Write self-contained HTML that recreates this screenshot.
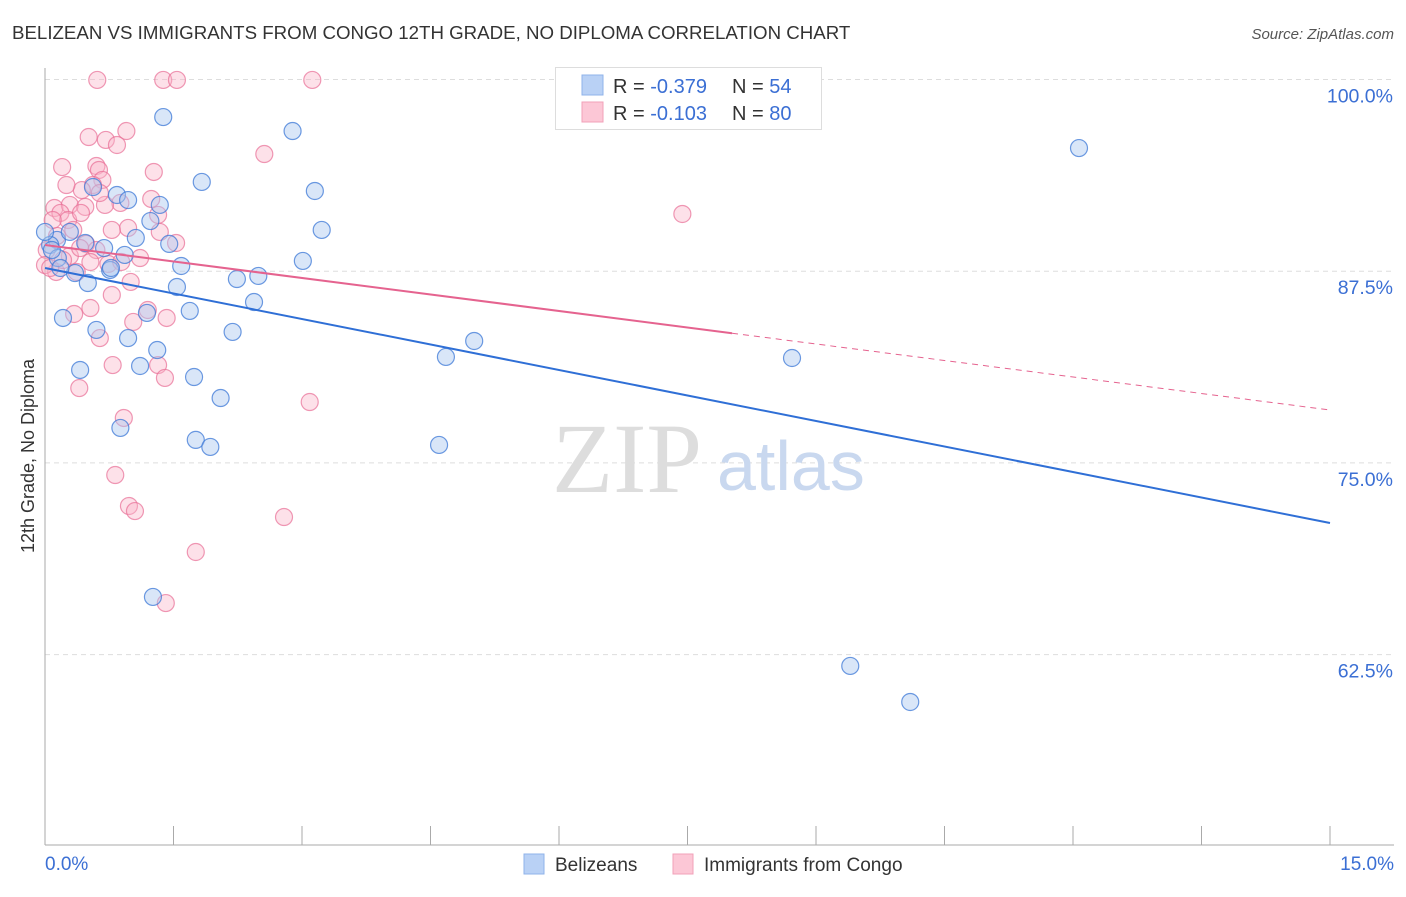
<!DOCTYPE html>
<html><head><meta charset="utf-8"><style>
body{margin:0;background:#fff;font-family:"Liberation Sans",sans-serif;}
</style></head><body>
<svg id="chart" width="1406" height="892" xmlns="http://www.w3.org/2000/svg" font-family="Liberation Sans, sans-serif">
<text x="12" y="39" font-size="18.7" fill="#333">BELIZEAN VS IMMIGRANTS FROM CONGO 12TH GRADE, NO DIPLOMA CORRELATION CHART</text>
<text x="1394" y="39" font-size="15" fill="#555" text-anchor="end" font-style="italic">Source: ZipAtlas.com</text>
<g id="grid"></g>
<text x="552" y="492" font-size="100" fill="#ddd" style="font-family:'Liberation Serif',serif">ZIP</text>
<text x="717" y="490" font-size="70" fill="#c9d8ef">atlas</text>
<g id="pts"></g>
<g id="lines"></g>
<text transform="translate(34,456) rotate(-90)" font-size="18" fill="#333" text-anchor="middle">12th Grade, No Diploma</text>
<text x="45" y="870" font-size="19" fill="#3b6fd4">0.0%</text>
<text x="1394" y="870" font-size="19" fill="#3b6fd4" text-anchor="end">15.0%</text>
<g>
<rect x="555.5" y="67.5" width="266" height="62" fill="#fff" stroke="#ddd"/>
<rect x="582" y="75" width="21" height="20" fill="#b9d1f5" stroke="#8fb3ea"/>
<rect x="582" y="102" width="21" height="20" fill="#fcc7d6" stroke="#f2a0b8"/>
<text x="613" y="93" font-size="20" fill="#333">R = <tspan fill="#3b6fd4">-0.379</tspan><tspan x="732">N = </tspan><tspan fill="#3b6fd4">54</tspan></text>
<text x="613" y="120" font-size="20" fill="#333">R = <tspan fill="#3b6fd4"> -0.103</tspan><tspan x="732">N = </tspan><tspan fill="#3b6fd4">80</tspan></text>
</g>
<g>
<rect x="524" y="854" width="20" height="20" fill="#b9d1f5" stroke="#8fb3ea"/>
<text x="555" y="871" font-size="19" fill="#333">Belizeans</text>
<rect x="673" y="854" width="20" height="20" fill="#fcc7d6" stroke="#f2a0b8"/>
<text x="704" y="871" font-size="19" fill="#333">Immigrants from Congo</text>
</g>
</svg>
<script>
const yTicks=[100,87.5,75,62.5];
const yTickLabels=["100.0%","87.5%","75.0%","62.5%"];
const xTicks=[0,1.5,3,4.5,6,7.5,9,10.5,12,13.5,15];
const blueX=[1.38,2.89,12.07,1.83,3.15,0.84,0.97,1.34,1.23,3.23,0.14,0.29,1.06,1.45,0.47,0.69,0.93,3.01,1.59,0.76,0.35,2.24,2.49,1.54,0.50,2.44,1.69,1.19,0.21,0.60,2.19,0.97,1.31,5.01,4.68,8.72,0.41,1.11,1.74,2.05,0.88,1.76,1.93,4.60,1.26,9.40,10.10,0.06,0.15,0.77,0.18,0.0,0.08,0.56];
const blueY=[97.55,96.64,95.53,93.32,92.73,92.47,92.14,91.82,90.77,90.19,89.54,90.06,89.67,89.28,89.34,89.01,88.56,88.17,87.84,87.58,87.38,86.99,87.19,86.47,86.73,85.49,84.91,84.78,84.45,83.67,83.54,83.14,82.36,82.95,81.91,81.84,81.06,81.32,80.60,79.23,77.28,76.50,76.04,76.17,66.26,61.76,59.41,89.21,88.36,87.71,87.71,90.06,88.88,92.99];
const pinkX=[0.61,1.38,1.54,3.12,0.95,0.51,0.71,0.84,2.56,0.20,0.60,1.27,0.63,0.67,0.56,0.43,1.24,0.88,0.70,0.11,0.29,0.47,0.18,0.27,1.32,1.34,0.97,0.78,0.33,0.14,0.48,1.53,0.60,0.29,0.53,0.74,0.89,0.37,0.13,1.00,0.78,0.53,0.34,1.42,1.03,0.64,0.79,1.32,1.40,0.40,3.09,0.92,0.82,0.98,1.05,2.79,1.76,1.41,7.44,0.09,0.21,0.41,0.02,0.64,0.25,0.42,1.11,0.0,1.20,0.06];
const pinkY=[99.97,99.97,99.97,99.97,96.64,96.25,96.06,95.73,95.14,94.29,94.36,93.97,94.10,93.45,93.12,92.79,92.21,91.95,91.82,91.62,91.82,91.69,91.30,90.84,91.17,90.06,90.32,90.19,90.19,89.80,89.28,89.34,88.88,88.49,88.10,87.97,88.10,87.45,87.45,86.80,85.95,85.10,84.71,84.45,84.19,83.14,81.38,81.38,80.54,79.88,78.97,77.93,74.21,72.19,71.86,71.47,69.19,65.86,91.23,90.84,88.23,89.01,88.88,92.60,93.12,91.30,88.36,87.90,84.97,87.71];
const blueTrend=[87.71,71.08];
const pinkTrend=[89.21,78.45];
const pinkSolidEnd=8.02;

const NS="http://www.w3.org/2000/svg";
const sx=v=>45+v/15*1285;
const sy=v=>79.5+(100-v)/12.5*191.7;
function mk(tag,attrs,parent){const e=document.createElementNS(NS,tag);for(const k in attrs)e.setAttribute(k,attrs[k]);parent.appendChild(e);return e;}
const grid=document.getElementById('grid');
yTicks.forEach((t,i)=>{
  const l=mk('line',{x1:45,x2:1394,y1:sy(t),y2:sy(t),stroke:'#ddd','stroke-dasharray':'5,4'},grid);
  
  
  const tx=mk('text',{x:1393,y:sy(t)+23,'font-size':19.5,fill:'#3b6fd4','text-anchor':'end'},grid);
  tx.textContent=yTickLabels[i];
  
  
});
const ax=mk('line',{x1:45,x2:45,y1:68,y2:845,stroke:'#aaa'},grid);


const bx=mk('line',{x1:45,x2:1394,y1:845,y2:845,stroke:'#aaa'},grid);


xTicks.forEach(t=>{
  const l=mk('line',{x1:sx(t),x2:sx(t),y1:826,y2:845,stroke:'#aaa'},grid);
  
  
});
const pts=document.getElementById('pts');
pinkX.forEach((x,i)=>{
  const c=mk('circle',{cx:sx(x),cy:sy(pinkY[i]),r:8.5,fill:'rgba(250,180,200,0.4)',stroke:'rgba(232,110,150,0.7)','stroke-width':1.2},pts);
  
  
});
blueX.forEach((x,i)=>{
  const c=mk('circle',{cx:sx(x),cy:sy(blueY[i]),r:8.5,fill:'rgba(170,200,240,0.45)',stroke:'rgba(60,120,215,0.75)','stroke-width':1.2},pts);
  
  
});
const lines=document.getElementById('lines');
const bl=mk('line',{x1:sx(0),y1:sy(blueTrend[0]),x2:sx(15),y2:sy(blueTrend[1]),stroke:'#2f6fd6','stroke-width':2},lines);


const pAt=x=>pinkTrend[0]+(pinkTrend[1]-pinkTrend[0])*x/15;
const pl=mk('line',{x1:sx(0),y1:sy(pinkTrend[0]),x2:sx(pinkSolidEnd),y2:sy(pAt(pinkSolidEnd)),stroke:'#e5638f','stroke-width':2},lines);


const pd=mk('line',{x1:sx(pinkSolidEnd),y1:sy(pAt(pinkSolidEnd)),x2:sx(15),y2:sy(pinkTrend[1]),stroke:'#e5638f','stroke-width':1,'stroke-dasharray':'6,5'},lines);


</script>
</body></html>
